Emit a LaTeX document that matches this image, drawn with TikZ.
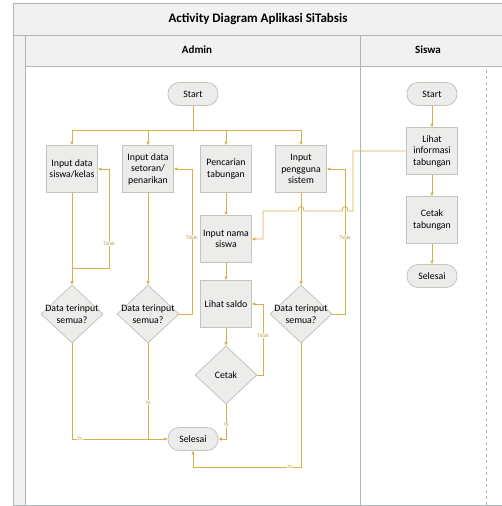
\documentclass[tikz,border=0pt]{standalone}
\usepackage{fontspec}
\setmainfont{Carlito}
\usetikzlibrary{shapes.geometric,arrows.meta}

\definecolor{flowgold}{RGB}{212,176,78}
\definecolor{guardgold}{RGB}{190,160,80}
\definecolor{boxfill}{RGB}{236,236,234}
\definecolor{boxline}{RGB}{196,196,190}
\definecolor{laneline}{RGB}{172,182,182}
\definecolor{lanefill}{RGB}{240,241,240}

\begin{document}
\begin{tikzpicture}[x=1pt,y=-1pt,
    act node/.style={rectangle,draw=boxline,fill=boxfill,line width=0.8pt,minimum width=51pt,minimum height=47pt,align=center,inner sep=1pt,font=\fontsize{9.8}{11.5}\selectfont},
    term node/.style={rectangle,rounded corners=11pt,draw=boxline,fill=boxfill,line width=0.8pt,minimum width=50pt,minimum height=23pt,font=\fontsize{9.8}{11.5}\selectfont},
    dec node/.style={diamond,draw=boxline,fill=boxfill,line width=0.8pt,minimum width=62pt,minimum height=58pt,inner sep=0pt,align=center,font=\fontsize{9.8}{11.5}\selectfont},
    flow/.style={draw=flowgold,line width=0.8pt,-{Triangle[length=3.5pt,width=3pt]}},
    plain flow/.style={draw=flowgold,line width=0.8pt},
    guard/.style={font=\fontsize{5.5}{6}\selectfont,text=guardgold,fill=white,inner sep=0.4pt},
    lane head/.style={font=\bfseries\fontsize{11}{13}\selectfont}]

    \useasboundingbox (0,0) rectangle (502,506);

    % swimlane frame
    \fill[lanefill] (13,3) rectangle (502,66);
    \fill[lanefill] (13,66) rectangle (25,505);
    \draw[laneline,line width=0.8pt] (502,3) -- (13,3) -- (13,505) -- (502,505);
    \draw[laneline,line width=0.8pt] (13,35) -- (502,35);
    \draw[laneline,line width=0.8pt] (25,66) -- (502,66);
    \draw[laneline,line width=0.8pt] (25,35) -- (25,505);
    \draw[laneline,line width=0.8pt] (360,35) -- (360,505);
    \draw[laneline,dashed] (486,70) -- (486,505);

    \node[font=\bfseries\fontsize{13}{15}\selectfont] at (258,19) (title) {Activity Diagram Aplikasi SiTabsis};
    \node[lane head] at (197,50) (admin) {Admin};
    \node[lane head] at (428,50) (siswa) {Siswa};

    % admin lane
    \node[term node] at (193,94) (start) {Start};
    \node[act node] at (72,169) (in1) {Input data\\siswa/kelas};
    \node[act node] at (148,169) (in2) {Input data\\setoran/\\penarikan};
    \node[act node] at (226,169) (in3) {Pencarian\\tabungan};
    \node[act node] at (301,169) (in4) {Input\\pengguna\\sistem};
    \node[act node] at (226,239) (nama) {Input nama\\siswa};
    \node[act node] at (226,304) (saldo) {Lihat saldo};
    \node[dec node] at (72,314) (dec1) {\makebox[0pt]{Data terinput}\\\makebox[0pt]{semua?}};
    \node[dec node] at (148,314) (dec2) {\makebox[0pt]{Data terinput}\\\makebox[0pt]{semua?}};
    \node[dec node] at (301,314) (dec4) {\makebox[0pt]{Data terinput}\\\makebox[0pt]{semua?}};
    \node[dec node] at (226,375) (cetak) {Cetak};
    \node[term node] at (193,439) (selesai) {Selesai};
    \coordinate (fork) at (193,130);
    \coordinate (t1) at (72,268);

    % siswa lane
    \node[term node] at (432,94) (start2) {Start};
    \node[act node] at (432,151) (info) {Lihat\\informasi\\tabungan};
    \node[act node] at (432,220) (cetak2) {Cetak\\tabungan};
    \node[term node] at (432,276) (selesai2) {Selesai};

    \draw[plain flow] (start) -- (fork);
    \draw[flow] (fork) -| (in1);
    \draw[flow] (fork) -| (in2);
    \draw[flow] (fork) -| (in3);
    \draw[flow] (fork) -| (in4);

    \draw[flow] (in1) -- (dec1);
    \draw[flow] (in2) -- (dec2);
    \draw[flow] (in3) -- (nama);
    \draw[flow] (nama) -- (saldo);
    \draw[flow] (saldo) -- (cetak);
    \draw[flow] (in4) -- (dec4);

    \draw[flow] (t1) -- (109,268) -- node[guard,pos=0.25]{Tidak} (109,169) -- (in1.east);
    \draw[flow] (dec2.east) -- (192,314) -- node[guard,pos=0.53]{Tidak} (192,169) -- (in2.east);
    \draw[flow] (dec4.east) -- (345,314) -- node[guard,pos=0.53]{Tidak} (345,169) -- (in4.east);
    \draw[flow] (cetak.east) -- (263,375) -- node[guard,pos=0.56]{Tidak} (263,304) -- (saldo.east);

    \draw[flow] (dec1.south) |- node[guard,pos=0.54]{Ya} (selesai.west);
    \draw[plain flow] (dec2.south) -- node[guard,pos=0.62]{Ya} (148,439);
    \draw[flow] (cetak.south) |- node[guard,pos=0.3]{Ya} (selesai.east);
    \draw[flow] (dec4.south) -- (301,467) -- node[guard,pos=0.1]{Ya} (193,467) -- (selesai.south);

    \draw[flow] (info.west) -- (353,151) -- (353,211) -- (348,211) .. controls (348,205) and (342,205) .. (342,211)
        -- (304,211) .. controls (304,205) and (298,205) .. (298,211) -- (263,211) -- (263,239) -- (nama.east);

    \draw[flow] (start2) -- (info);
    \draw[flow] (info) -- (cetak2);
    \draw[flow] (cetak2) -- (selesai2);
\end{tikzpicture}
\end{document}
